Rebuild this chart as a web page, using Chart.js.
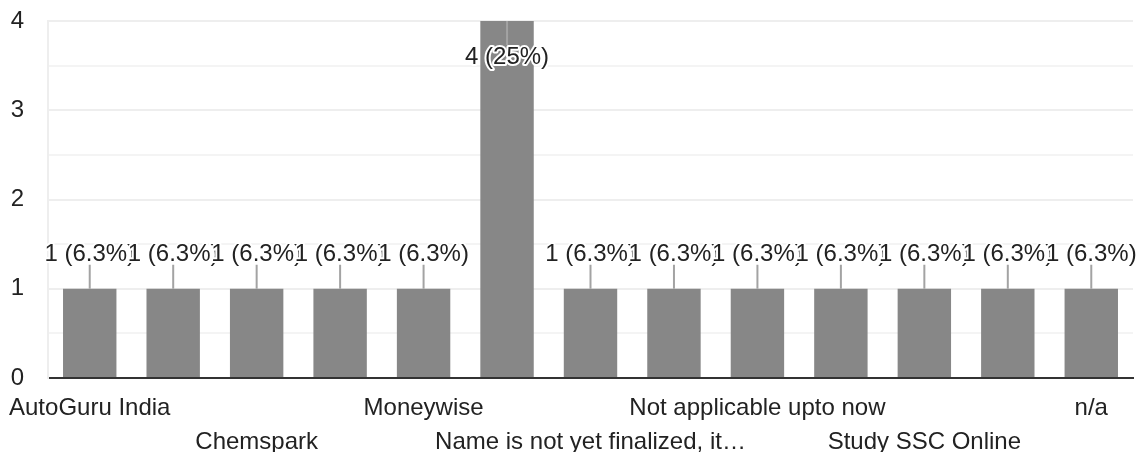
<!DOCTYPE html>
<html>
<head>
<meta charset="utf-8">
<script src="https://cdn.jsdelivr.net/npm/chart.js@4/dist/chart.umd.min.js"></script>
<style>
  html,body{margin:0;padding:0;background:#fff}
  #wrap{width:1142px;height:452px}
</style>
</head>
<body>
<div id="wrap"><canvas id="ch-resp" width="1142" height="452"></canvas></div>
<script>
// ── datos ──────────────────────────────────────────────
// every 2nd category name is hidden on the reference axis, so those stay blank
const categorias=['AutoGuru India','','Chemspark','','Moneywise','','Name is not yet finalized, it…','','Not applicable upto now','','Study SSC Online','','n/a'];
const respuestas=[1,1,1,1,1,4,1,1,1,1,1,1,1];
const porcentajes=['6.3%','6.3%','6.3%','6.3%','6.3%','25%','6.3%','6.3%','6.3%','6.3%','6.3%','6.3%','6.3%'];
const yTicks=[0,1,2,3,4];

const FONT='"Liberation Sans", Arial, sans-serif';
const C={bar:'#878787',grid:'#eeeeee',minor:'#f4f4f4',base:'#333333',text:'#222222',lead:'#a3a3a3'};

// labels "n (x%)" with a small leader line to the bar
const etiquetas={
  id:'etiquetas',
  afterDatasetsDraw(chart){
    const {ctx,chartArea}=chart;
    const meta=chart.getDatasetMeta(0);
    ctx.save();
    ctx.font='24px '+FONT;
    ctx.textAlign='center'; ctx.textBaseline='middle';
    meta.data.forEach((bar,i)=>{
      const txt=respuestas[i]+' ('+porcentajes[i]+')';
      let ty=bar.y-34, l1=bar.y-24;
      if(ty-12<chartArea.top){ ty=bar.y+36; l1=bar.y+24; }
      ctx.strokeStyle=C.lead; ctx.lineWidth=2;
      ctx.beginPath(); ctx.moveTo(bar.x,bar.y); ctx.lineTo(bar.x,l1); ctx.stroke();
      ctx.lineJoin='round'; ctx.strokeStyle='#fff'; ctx.lineWidth=4;
      ctx.strokeText(txt,bar.x,ty);
      ctx.fillStyle=C.text; ctx.fillText(txt,bar.x,ty);
    });
    ctx.restore();
  }
};

new Chart(document.getElementById('ch-resp'),{
  type:'bar',
  data:{
    labels:categorias,
    datasets:[{data:respuestas,backgroundColor:C.bar,barPercentage:0.64,categoryPercentage:1}]
  },
  options:{
    responsive:false,animation:false,devicePixelRatio:1,
    layout:{padding:{top:21,right:9,left:0,bottom:0}},
    plugins:{legend:{display:false},tooltip:{enabled:false}},
    scales:{
      x:{
        grid:{display:true,offset:true,drawTicks:false,lineWidth:2,
          color:c=>(c.index===0||c.index===categorias.length)?C.grid:'rgba(0,0,0,0)'},
        border:{display:true,color:C.base,width:2},
        ticks:{autoSkip:false,maxRotation:0,minRotation:0,padding:13,color:C.text,
          font:{family:FONT,size:24,lineHeight:1.42},
          callback(v,i){
            if(i%2) return '';
            const l=categorias[i];
            return (i/2)%2 ? ['',l] : l;
          }},
        afterFit:s=>{ s.height=74; s.paddingLeft=0; s.paddingRight=0; }
      },
      y:{
        min:0,max:4,
        ticks:{stepSize:0.5,padding:24,color:C.text,font:{family:FONT,size:24},
          callback:v=>yTicks.includes(v)?v:''},
        grid:{drawTicks:false,lineWidth:2,
          color:c=>yTicks.includes(c.tick.value)?C.grid:C.minor},
        border:{display:true,color:C.grid,width:2},
        afterFit:s=>{ s.width=48; s.paddingTop=0; s.paddingBottom=0; }
      }
    }
  },
  plugins:[etiquetas]
});
</script>
</body>
</html>
